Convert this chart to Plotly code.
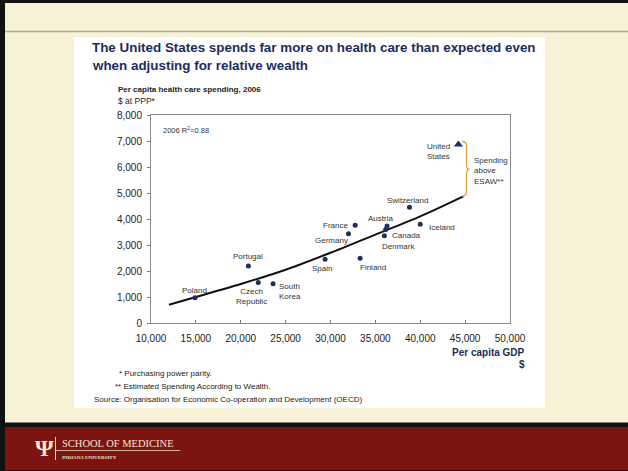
import plotly.graph_objects as go

# ---------------- data ----------------
countries = ["Poland", "Portugal", "Czech<br>Republic", "South<br>Korea", "Spain", "Finland",
             "Germany", "France", "Canada", "Denmark", "Austria", "Switzerland", "Iceland"]
gdp = [14900, 20850, 21950, 23600, 29400, 33300, 32000, 32750, 36000, 36150, 36300, 38800, 40000]
spend = [970, 2190, 1560, 1510, 2450, 2490, 3430, 3760, 3360, 3600, 3730, 4450, 3800]

us_name = ["United<br>States"]
us_gdp = [44250]
us_spend = [6870]

trend_gdp = [12000, 15000, 20000, 25000, 30000, 35000, 40000, 44800]
trend_spend = [700, 1000, 1500, 2050, 2700, 3400, 4100, 4870]

x_ticks = [10000, 15000, 20000, 25000, 30000, 35000, 40000, 45000, 50000]
y_ticks = [0, 1000, 2000, 3000, 4000, 5000, 6000, 7000, 8000]

# ---------------- styling ----------------
W, H = 628, 471
FONT = "Liberation Sans, Arial, sans-serif"
SERIF = "Liberation Serif, DejaVu Serif, serif"
NAVY = "#1c2d5c"
DOT = "#1d2f5f"
TXT = "#333333"
CREAM = "#f7f1d6"
RED = "#7c1411"
LOGO = "#f3e7cc"


def px(x):
    return x / W


def py(y):
    return 1 - y / H


# label placement: (xanchor, xshift, yshift, align)
label_style = {
    "Poland": ("center", 0, 7, "center"),
    "Portugal": ("center", 0, 10, "center"),
    "Czech<br>Republic": ("center", -7, -14, "center"),
    "South<br>Korea": ("left", 4, -8, "left"),
    "Spain": ("center", -3, -9, "center"),
    "Finland": ("left", -2, -9, "left"),
    "Germany": ("center", -17, -7, "center"),
    "France": ("right", -5, 0, "right"),
    "Canada": ("left", 6, 0, "left"),
    "Denmark": ("center", 13, -17, "center"),
    "Austria": ("center", -7, 8, "center"),
    "Switzerland": ("center", -2, 7, "center"),
    "Iceland": ("left", 7, -3, "left"),
}

fig = go.Figure()

fig.add_trace(go.Scatter(
    x=trend_gdp, y=trend_spend, mode="lines",
    line=dict(color="#111111", width=2, shape="spline", smoothing=0.8),
    hoverinfo="skip", showlegend=False))

fig.add_trace(go.Scatter(
    x=gdp, y=spend, mode="markers", text=countries,
    marker=dict(color=DOT, size=5), showlegend=False))

fig.add_trace(go.Scatter(
    x=us_gdp, y=us_spend, mode="markers", text=us_name,
    marker=dict(color=DOT, size=8, symbol="triangle-up"), showlegend=False))

annotations = []
for name, xv, yv in zip(countries, gdp, spend):
    xa, xs, ys, al = label_style[name]
    annotations.append(dict(x=xv, y=yv, xref="x", yref="y", text=name, showarrow=False,
                            xanchor=xa, yanchor="middle", xshift=xs, yshift=ys, align=al,
                            font=dict(family=FONT, size=8, color=TXT)))
annotations.append(dict(x=us_gdp[0], y=us_spend[0], xref="x", yref="y", text=us_name[0],
                        showarrow=False, xanchor="right", yanchor="middle", xshift=-6, yshift=-7,
                        align="left", font=dict(family=FONT, size=8, color=TXT)))

# brace label
annotations.append(dict(x=px(472), y=py(170.5), xref="paper", yref="paper",
                        text="Spending<br>above<br>ESAW**", showarrow=False, xanchor="left",
                        yanchor="middle", align="left", font=dict(family=FONT, size=8, color=TXT)))
# R^2
annotations.append(dict(x=px(161), y=py(129.5), xref="paper", yref="paper",
                        text="2006 R<sup>2</sup>=0.88", showarrow=False, xanchor="left",
                        yanchor="middle", font=dict(family=FONT, size=7.5, color=TXT)))

# title
annotations.append(dict(x=px(90), y=py(47.5), xref="paper", yref="paper",
                        text="<b>The United States spends far more on health care than expected even</b>",
                        showarrow=False, xanchor="left", yanchor="middle",
                        font=dict(family=FONT, size=13.4, color=NAVY)))
annotations.append(dict(x=px(90), y=py(65.5), xref="paper", yref="paper",
                        text="<b>when adjusting for relative wealth</b>",
                        showarrow=False, xanchor="left", yanchor="middle",
                        font=dict(family=FONT, size=13.4, color=NAVY)))
# y title
annotations.append(dict(x=px(116), y=py(90), xref="paper", yref="paper",
                        text="<b>Per capita health care spending, 2006</b>",
                        showarrow=False, xanchor="left", yanchor="middle",
                        font=dict(family=FONT, size=8, color="#222222")))
annotations.append(dict(x=px(116), y=py(101), xref="paper", yref="paper",
                        text="$ at PPP*", showarrow=False, xanchor="left", yanchor="middle",
                        font=dict(family=FONT, size=8.5, color="#222222")))
# x title
annotations.append(dict(x=px(527), y=py(352), xref="paper", yref="paper",
                        text="<b>Per capita GDP</b>", showarrow=False, xanchor="right",
                        yanchor="middle", font=dict(family=FONT, size=10, color=NAVY)))
annotations.append(dict(x=px(527), y=py(364.5), xref="paper", yref="paper",
                        text="<b>$</b>", showarrow=False, xanchor="right",
                        yanchor="middle", font=dict(family=FONT, size=10, color="#333333")))
# footnotes
for txt, x0, y0 in [("* Purchasing power parity.", 117, 373),
                    ("** Estimated Spending According to Wealth.", 113, 386),
                    ("Source: Organisation for Economic Co-operation and Development (OECD)", 92, 399)]:
    annotations.append(dict(x=px(x0), y=py(y0), xref="paper", yref="paper", text=txt,
                            showarrow=False, xanchor="left", yanchor="middle",
                            font=dict(family=FONT, size=8, color="#222222")))

# logo texts
annotations.append(dict(x=px(44), y=py(448), xref="paper", yref="paper", text="<b>Ψ</b>",
                        showarrow=False, xanchor="center", yanchor="middle",
                        font=dict(family=SERIF, size=24, color=LOGO)))
annotations.append(dict(x=px(60), y=py(443), xref="paper", yref="paper",
                        text="SCHOOL OF MEDICINE", showarrow=False, xanchor="left",
                        yanchor="middle", font=dict(family=SERIF, size=10.5, color=LOGO)))
annotations.append(dict(x=px(60), y=py(457.5), xref="paper", yref="paper",
                        text="<b>INDIANA UNIVERSITY</b>", showarrow=False, xanchor="left",
                        yanchor="middle", font=dict(family=SERIF, size=5, color=LOGO)))

shapes = [
    # white panel
    dict(type="rect", xref="paper", yref="paper", x0=px(74), x1=px(545), y0=py(408), y1=py(37),
         fillcolor="white", line=dict(width=0), layer="below"),
    # header line
    dict(type="line", xref="paper", yref="paper", x0=px(5), x1=1, y0=py(31.5), y1=py(31.5),
         line=dict(color="#a8a8a2", width=1.5), layer="below"),
    # top black border
    dict(type="rect", xref="paper", yref="paper", x0=0, x1=1, y0=py(3), y1=1,
         fillcolor="#111111", line=dict(width=0), layer="below"),
    # bottom black band + red bar
    dict(type="rect", xref="paper", yref="paper", x0=0, x1=1, y0=py(427), y1=py(422.5),
         fillcolor="#111111", line=dict(width=0), layer="below"),
    dict(type="rect", xref="paper", yref="paper", x0=0, x1=1, y0=0, y1=py(427),
         fillcolor=RED, line=dict(width=0), layer="below"),
    dict(type="rect", xref="paper", yref="paper", x0=0, x1=1, y0=0, y1=py(470),
         fillcolor="#3a0806", line=dict(width=0), layer="below"),
    # left black border
    dict(type="rect", xref="paper", yref="paper", x0=0, x1=px(5), y0=0, y1=1,
         fillcolor="#111111", line=dict(width=0), layer="below"),
    # logo separator and underline
    dict(type="line", xref="paper", yref="paper", x0=px(55.5), x1=px(55.5), y0=py(460), y1=py(437),
         line=dict(color="#e9d9bd", width=1), layer="above"),
    dict(type="line", xref="paper", yref="paper", x0=px(55.5), x1=px(180), y0=py(450.5), y1=py(450.5),
         line=dict(color="#e9d9bd", width=0.8), layer="above"),
    # brace
    dict(type="path", xref="x", yref="y",
         path="M 44650,6980 Q 45150,6980 45150,6800 L 45150,6080 Q 45150,5910 45500,5910 "
              "Q 45150,5910 45150,5740 L 45150,5060 Q 45150,4880 44650,4880",
         line=dict(color="#e5a04a", width=1.3), layer="above"),
]

fig.update_layout(
    width=W, height=H, margin=dict(l=0, r=0, t=0, b=0, pad=0), autosize=False,
    paper_bgcolor=CREAM, plot_bgcolor="rgba(0,0,0,0)",
    showlegend=False, annotations=annotations, shapes=shapes,
    font=dict(family=FONT, color=TXT),
    xaxis=dict(domain=[px(151), px(510)], range=[10000, 50000], tickvals=x_ticks,
               tickformat=",d", ticks="inside", ticklen=3, tickcolor="#777777",
               showline=True, linecolor="#8a8a8a", linewidth=1, mirror=True,
               showgrid=False, zeroline=False, ticklabelstandoff=6, automargin=False,
               tickfont=dict(family=FONT, size=10, color="#222222")),
    yaxis=dict(domain=[py(323), py(115)], range=[0, 8000], tickvals=y_ticks,
               tickformat=",d", ticks="outside", ticklen=3, tickcolor="#777777",
               showline=True, linecolor="#8a8a8a", linewidth=1, mirror=True,
               showgrid=False, zeroline=False, ticklabelstandoff=3, automargin=False,
               tickfont=dict(family=FONT, size=10, color="#222222")),
)

fig.write_html("out.html", config={"responsive": False, "displayModeBar": False})
